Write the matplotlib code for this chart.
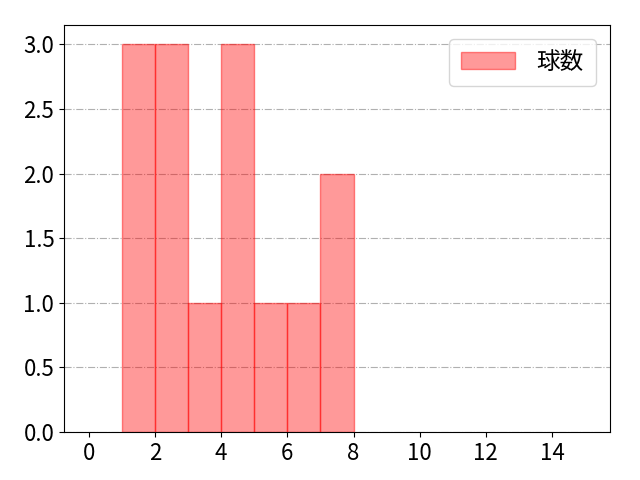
import matplotlib
matplotlib.use("Agg")
from matplotlib import pyplot as plt

plt.rcParams['font.family'] = ['Noto Sans CJK JP', 'DejaVu Sans']

# bin left edges and counts
bin_left = [1, 2, 3, 4, 5, 6, 7]
counts = [3, 3, 1, 3, 1, 1, 2]
label = "球数"

fig, ax = plt.subplots(figsize=(6.4, 4.8), dpi=100)
ax.bar(bin_left, counts, width=1, align='edge', color=(1, 0, 0, 0.4),
       edgecolor=(1, 0, 0, 0.45), linewidth=1.0, label=label)
ax.set_xlim(-0.75, 15.75)
ax.set_ylim(0, 3.15)
ax.set_xticks(range(0, 16, 2))
ax.grid(axis='y', linestyle='-.', color='#b0b0b0')
ax.set_axisbelow(True)
ax.tick_params(labelsize=16)
ax.legend(fontsize=17, loc='upper right', handlelength=2.3, handletextpad=0.9,
          borderpad=0.5, borderaxespad=0.6)
fig.subplots_adjust(left=0.1, right=0.953, top=0.948, bottom=0.1)
fig.savefig("out.png")
